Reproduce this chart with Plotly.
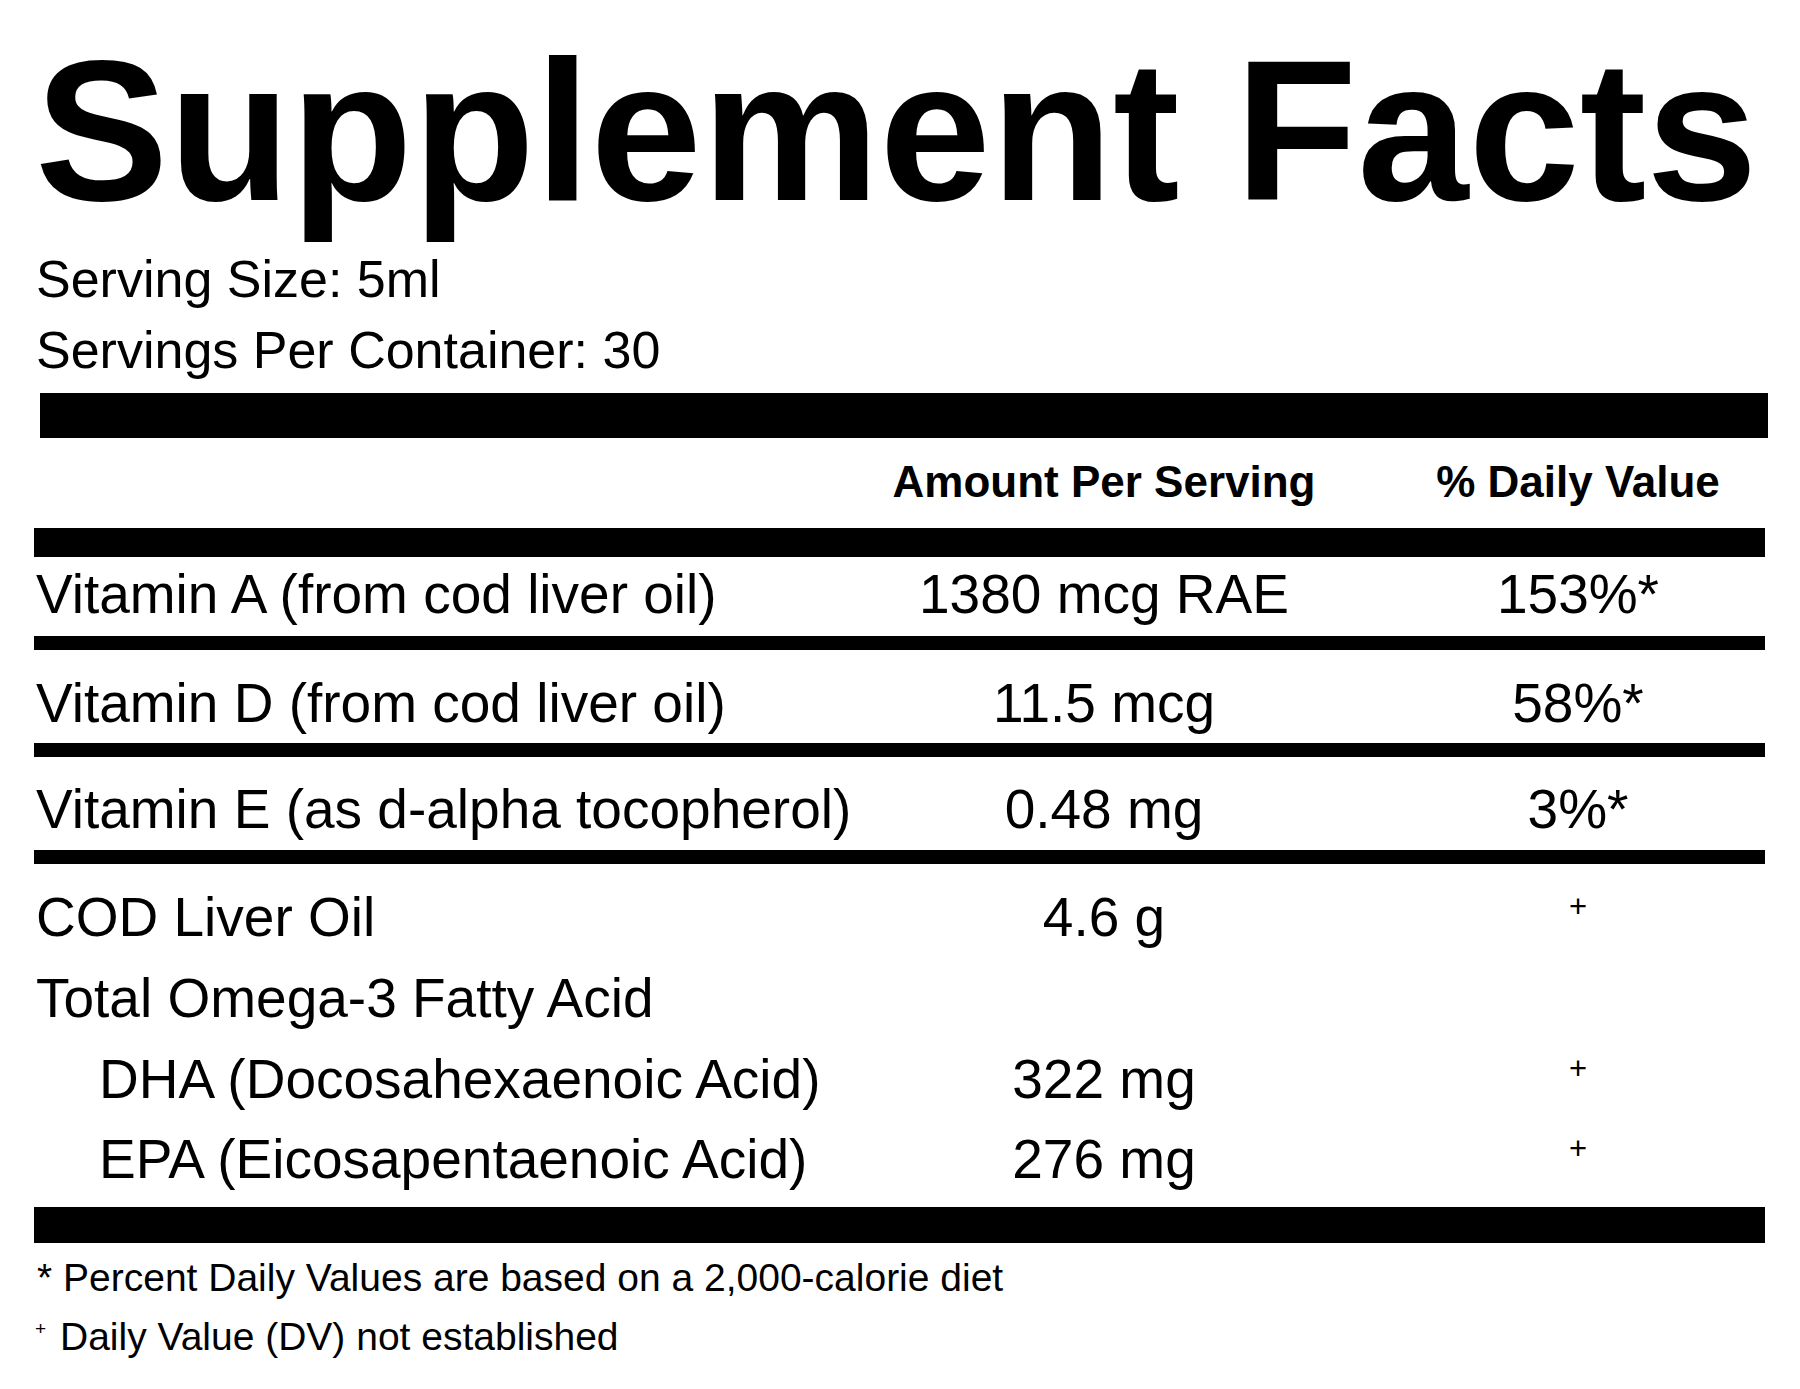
import plotly.graph_objects as go

# label content
title = "Supplement Facts"
serving_info = ["Serving Size: 5ml", "Servings Per Container: 30"]
column_headers = ["Amount Per Serving", "% Daily Value"]

nutrients = [
    "Vitamin A (from cod liver oil)",
    "Vitamin D (from cod liver oil)",
    "Vitamin E (as d-alpha tocopherol)",
    "COD Liver Oil",
    "Total Omega-3 Fatty Acid",
    "DHA (Docosahexaenoic Acid)",
    "EPA (Eicosapentaenoic Acid)",
]
amounts = ["1380 mcg RAE", "11.5 mcg", "0.48 mg", "4.6 g", "", "322 mg", "276 mg"]
daily_values = ["153%*", "58%*", "3%*", "+", "", "+", "+"]
nested = [False, False, False, False, False, True, True]

footnotes = ["* Percent Daily Values are based on a 2,000-calorie diet",
             "Daily Value (DV) not established"]

# page layout (pixels, y measured from the top of the window)
W, H = 1800, 1389
BODY = 8  # default page margin around the plot div
FONT = "Liberation Sans, Arial, Helvetica, sans-serif"
left_x, indent_x = 36, 99
amount_x, dv_x = 1104, 1578
row_base = [613, 722, 828, 936, 1017, 1098, 1178]
# thick black rules: (x0, x1, top, bottom)
rules = [(40, 1768, 393, 438), (34, 1765, 528, 557), (34, 1765, 636, 650),
         (34, 1765, 743, 757), (34, 1765, 850, 864), (34, 1765, 1207, 1243)]

fig = go.Figure()


def add_text(xs, bases, texts, size, bold=False, pos="middle right"):
    # scatter text sits its baseline about a quarter em under the point
    fig.add_trace(go.Scatter(
        x=xs, y=[b - 0.25 * size for b in bases], text=texts, mode="text",
        textposition=pos, cliponaxis=False, hoverinfo="skip",
        textfont=dict(family=FONT, size=size, color="black",
                      weight="bold" if bold else "normal")))


add_text([35], [200], [title], 200, bold=True)
add_text([left_x] * 2, [297, 368], serving_info, 52)
add_text([amount_x, dv_x], [497, 497], column_headers, 44, bold=True, pos="middle center")

add_text([indent_x if n else left_x for n in nested], row_base, nutrients, 55)
add_text([amount_x] * len(amounts), row_base, amounts, 55, pos="middle center")

dv_main = [(b, v) for b, v in zip(row_base, daily_values) if v and v != "+"]
dv_plus = [b for b, v in zip(row_base, daily_values) if v == "+"]
add_text([dv_x] * len(dv_main), [b for b, _ in dv_main], [v for _, v in dv_main], 55,
         pos="middle center")
add_text([dv_x] * len(dv_plus), [b - 19 for b in dv_plus], ["+"] * len(dv_plus), 31,
         pos="middle center")

add_text([37], [1291], [footnotes[0]], 39)
add_text([35], [1335], ["+"], 19)
add_text([60], [1350], [footnotes[1]], 39)

for x0, x1, y0, y1 in rules:
    fig.add_shape(type="rect", x0=x0, x1=x1, y0=y0, y1=y1, xref="x", yref="y",
                  fillcolor="black", line_width=0, layer="above")

fig.update_layout(
    width=W - BODY, height=H - BODY, autosize=False,
    margin=dict(l=0, r=0, t=0, b=0, pad=0),
    paper_bgcolor="white", plot_bgcolor="white",
    showlegend=False,
)
fig.update_xaxes(range=[BODY, W], visible=False, fixedrange=True)
fig.update_yaxes(range=[H, BODY], visible=False, fixedrange=True)

fig.write_html("out.html")
